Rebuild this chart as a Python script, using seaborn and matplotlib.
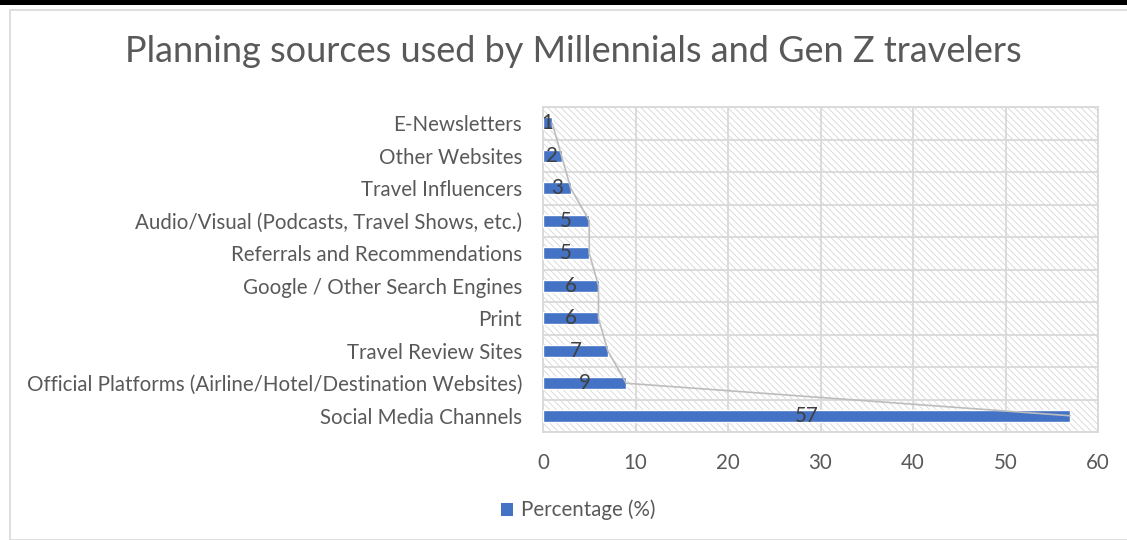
import matplotlib
matplotlib.use("Agg")
import matplotlib.pyplot as plt
import seaborn as sns
import pandas as pd
from matplotlib.patches import Rectangle, Patch

categories = [
    "E-Newsletters",
    "Other Websites",
    "Travel Influencers",
    "Audio/Visual (Podcasts, Travel Shows, etc.)",
    "Referrals and Recommendations",
    "Google / Other Search Engines",
    "Print",
    "Travel Review Sites",
    "Official Platforms (Airline/Hotel/Destination Websites)",
    "Social Media Channels",
]
values = [1, 2, 3, 5, 5, 6, 6, 7, 9, 57]
x_ticks = [0, 10, 20, 30, 40, 50, 60]
title = "Planning sources used by Millennials and Gen Z travelers"
series_name = "Percentage (%)"

sns.set_theme(style="white")
plt.rcParams["font.family"] = ["Lato", "DejaVu Sans"]
plt.rcParams["hatch.linewidth"] = 0.6

df = pd.DataFrame({"cat": categories, "val": values})

FS = 14.8
fig = plt.figure(figsize=(11.27, 5.40), dpi=100)
W, H = 1127, 540
ax = fig.add_axes([543 / W, 1 - 432 / H, (1098 - 543) / W, (432 - 107) / H])

# hatched plot background
bg = Rectangle((0, 0), 1, 1, transform=ax.transAxes, facecolor="white",
               edgecolor="#d6d6d6", hatch="\\" * 5, linewidth=0, zorder=0)
ax.add_patch(bg)

sns.barplot(data=df, x="val", y="cat", orient="h", color="#4472C4",
            width=0.38, ax=ax, zorder=3, saturation=1)

ax.plot(df["val"], range(len(categories)), color="#bdbdbd", lw=1.2, zorder=4)

for i, v in enumerate(values):
    ax.text(v / 2, i, str(v), ha="center", va="center", fontsize=FS,
            color="#404040", zorder=5)

ax.set_xlim(0, 60)
ax.set_ylim(len(categories) - 0.5, -0.5)
ax.set_xticks(x_ticks)
for xv in x_ticks:
    ax.axvline(xv, color="#d9d9d9", lw=1.3, zorder=1)
for k in range(len(categories) + 1):
    ax.axhline(k - 0.5, color="#d9d9d9", lw=1.3, zorder=1)
for s in ax.spines.values():
    s.set_color("#d9d9d9")
    s.set_linewidth(1.3)
ax.set_xlabel("")
ax.set_ylabel("")
ax.tick_params(axis="both", length=0, labelsize=FS, labelcolor="#595959")
ax.tick_params(axis="y", pad=15)
ax.tick_params(axis="x", pad=15)

fig.text(573 / W, 1 - 52 / H, title, ha="center", va="center",
         fontsize=26, color="#595959", fontweight="normal")

fig.legend(handles=[Patch(facecolor="#4472C4", edgecolor="none")],
           labels=[series_name], loc="center",
           bbox_to_anchor=(578 / W, 1 - 510 / H), frameon=False,
           fontsize=FS, labelcolor="#595959", handlelength=0.6,
           handleheight=0.6, handletextpad=0.4)

# chart frame and top black band
fig.patches.append(Rectangle((10 / W, 0), 1.2, 1 - 10 / H, transform=fig.transFigure,
                             facecolor="none", edgecolor="#d9d9d9", lw=1.2))
fig.patches.append(Rectangle((0, 1 - 5 / H), 1, 5 / H, transform=fig.transFigure,
                             facecolor="black", edgecolor="none"))

fig.savefig("out.png", dpi=100)
